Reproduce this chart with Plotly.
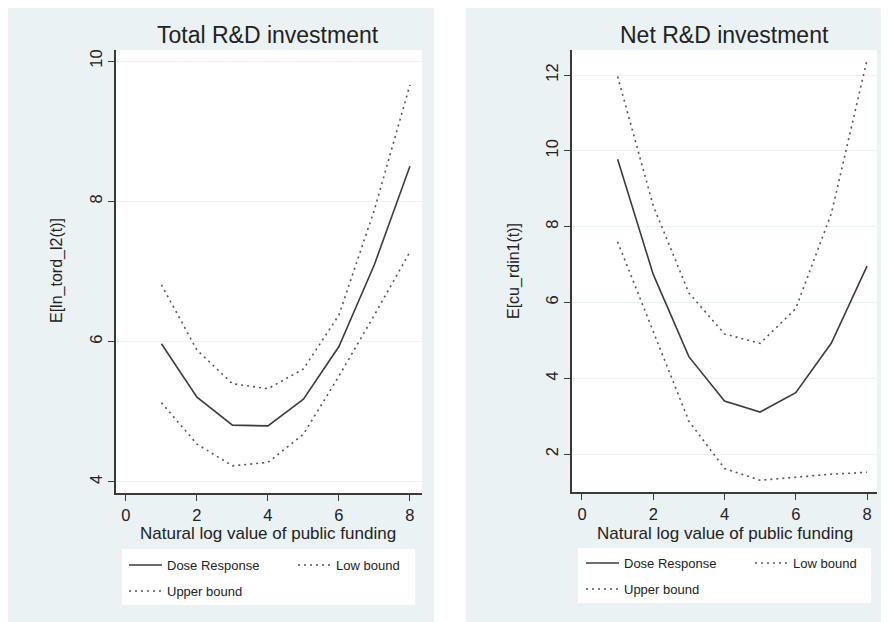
import plotly.graph_objects as go

# ---- data ----
x_vals = [1, 2, 3, 4, 5, 6, 7, 8]

total_dose = [5.97, 5.21, 4.81, 4.80, 5.18, 5.93, 7.10, 8.50]
total_upper = [6.81, 5.88, 5.40, 5.33, 5.61, 6.38, 7.88, 9.66]
total_low = [5.13, 4.54, 4.23, 4.28, 4.68, 5.51, 6.38, 7.28]

net_dose = [9.78, 6.74, 4.57, 3.40, 3.11, 3.62, 4.93, 6.96]
net_upper = [11.96, 8.55, 6.25, 5.17, 4.92, 5.84, 8.35, 12.40]
net_low = [7.60, 5.25, 2.87, 1.62, 1.31, 1.39, 1.47, 1.52]

x_ticks = [0, 2, 4, 6, 8]
total_y_ticks = [4, 6, 8, 10]
net_y_ticks = [2, 4, 6, 8, 10, 12]

titles = ["Total R&D investment", "Net R&D investment"]
x_title = "Natural log value of public funding"
y_titles = ["E[ln_tord_l2(t)]", "E[cu_rdin1(t)]"]
series_names = ["Dose Response", "Low bound", "Upper bound"]

# ---- style ----
W, H = 889, 622
OFF = 8  # page body margin offset compensation
FONT = "Liberation Sans, Arial, sans-serif"
BG = "#EAF2F3"
AX = "#3a3a3a"
TXT = "#222222"
SOLID = "#3c3c3c"
DOT = "#555555"
DOTDASH = "2px,4px"


def px(v):
    return (v - OFF) / W


def py(v):
    return 1 - (v - OFF) / H


fig = go.Figure()

panels = [
    dict(xa="x", ya="y", dose=total_dose, low=total_low, up=total_upper,
         leg1="legend", leg2="legend2"),
    dict(xa="x2", ya="y2", dose=net_dose, low=net_low, up=net_upper,
         leg1="legend3", leg2="legend4"),
]

for p in panels:
    fig.add_trace(go.Scatter(x=x_vals, y=p["dose"], mode="lines", name=series_names[0],
                             line=dict(color=SOLID, width=1.6), xaxis=p["xa"], yaxis=p["ya"],
                             legend=p["leg1"], legendwidth=121, hoverinfo="skip"))
    fig.add_trace(go.Scatter(x=x_vals, y=p["low"], mode="lines", name=series_names[1],
                             line=dict(color=DOT, width=1.6, dash=DOTDASH), xaxis=p["xa"], yaxis=p["ya"],
                             legend=p["leg1"], legendwidth=62, hoverinfo="skip"))
    fig.add_trace(go.Scatter(x=x_vals, y=p["up"], mode="lines", name=series_names[2],
                             line=dict(color=DOT, width=1.6, dash=DOTDASH), xaxis=p["xa"], yaxis=p["ya"],
                             legend=p["leg2"], legendwidth=80, hoverinfo="skip"))

axis_common = dict(
    showline=True, linecolor=AX, linewidth=1.5, mirror=False,
    ticks="outside", ticklen=6, tickwidth=1.2, tickcolor=AX,
    tickfont=dict(family=FONT, size=16.5, color=TXT),
    zeroline=False,
)

fig.update_layout(
    width=W, height=H,
    margin=dict(l=0, r=0, t=0, b=0, autoexpand=False),
    paper_bgcolor="white", plot_bgcolor="white",
    font=dict(family=FONT, color=TXT),
    xaxis=dict(domain=[px(116), px(422)], range=[-0.28, 8.34], tickvals=x_ticks,
               showgrid=False, anchor="y", **axis_common),
    yaxis=dict(domain=[py(493), py(50)], range=[3.843, 10.157], tickvals=total_y_ticks,
               showgrid=True, gridcolor=BG, gridwidth=1, tickangle=-90, anchor="x", **axis_common),
    xaxis2=dict(domain=[px(572), px(877)], range=[-0.28, 8.28], tickvals=x_ticks,
                showgrid=False, anchor="y2", **axis_common),
    yaxis2=dict(domain=[py(492), py(50)], range=[1.0, 12.66], tickvals=net_y_ticks,
                showgrid=True, gridcolor=BG, gridwidth=1, tickangle=-90, anchor="x2", **axis_common),
    showlegend=True,
)

leg_common = dict(orientation="h", bgcolor="rgba(0,0,0,0)", borderwidth=0,
                  font=dict(family=FONT, size=13, color=TXT), xanchor="left", yanchor="middle",
                  tracegroupgap=0, itemwidth=33)
fig.update_layout(
    legend=dict(x=px(124), y=py(565), **leg_common),
    legend2=dict(x=px(124), y=py(591), **leg_common),
    legend3=dict(x=px(581), y=py(563), **leg_common),
    legend4=dict(x=px(581), y=py(589), **leg_common),
)

shapes = []
# panel backgrounds
for (x0, y0, x1, y1) in [(6, 7, 434, 622), (466, 8, 897, 622)]:
    shapes.append(dict(type="rect", xref="paper", yref="paper", x0=px(x0), x1=px(x1),
                       y0=py(y1), y1=py(y0), fillcolor=BG, line=dict(width=0), layer="below"))
# white plot areas and legend boxes
for (x0, y0, x1, y1) in [(116, 50, 422, 493), (572, 50, 877, 492),
                         (122, 549, 415, 605), (578, 548, 871, 603)]:
    shapes.append(dict(type="rect", xref="paper", yref="paper", x0=px(x0), x1=px(x1),
                       y0=py(y1), y1=py(y0), fillcolor="white", line=dict(width=0), layer="below"))
fig.update_layout(shapes=shapes)

annotations = []
# panel titles
for cx, t in [(268, titles[0]), (724, titles[1])]:
    annotations.append(dict(text=t, x=px(cx), y=py(35), xref="paper", yref="paper",
                            xanchor="center", yanchor="middle", showarrow=False,
                            font=dict(family=FONT, size=23, color=TXT)))
# x-axis titles
for cx in [268, 725]:
    annotations.append(dict(text=x_title, x=px(cx), y=py(533), xref="paper", yref="paper",
                            xanchor="center", yanchor="middle", showarrow=False,
                            font=dict(family=FONT, size=17, color=TXT)))
# y-axis titles
for cx, t in [(57, y_titles[0]), (514, y_titles[1])]:
    annotations.append(dict(text=t, x=px(cx), y=py(271), xref="paper", yref="paper",
                            xanchor="center", yanchor="middle", showarrow=False, textangle=-90,
                            font=dict(family=FONT, size=16, color=TXT)))
fig.update_layout(annotations=annotations)

fig.write_html("out.html")
